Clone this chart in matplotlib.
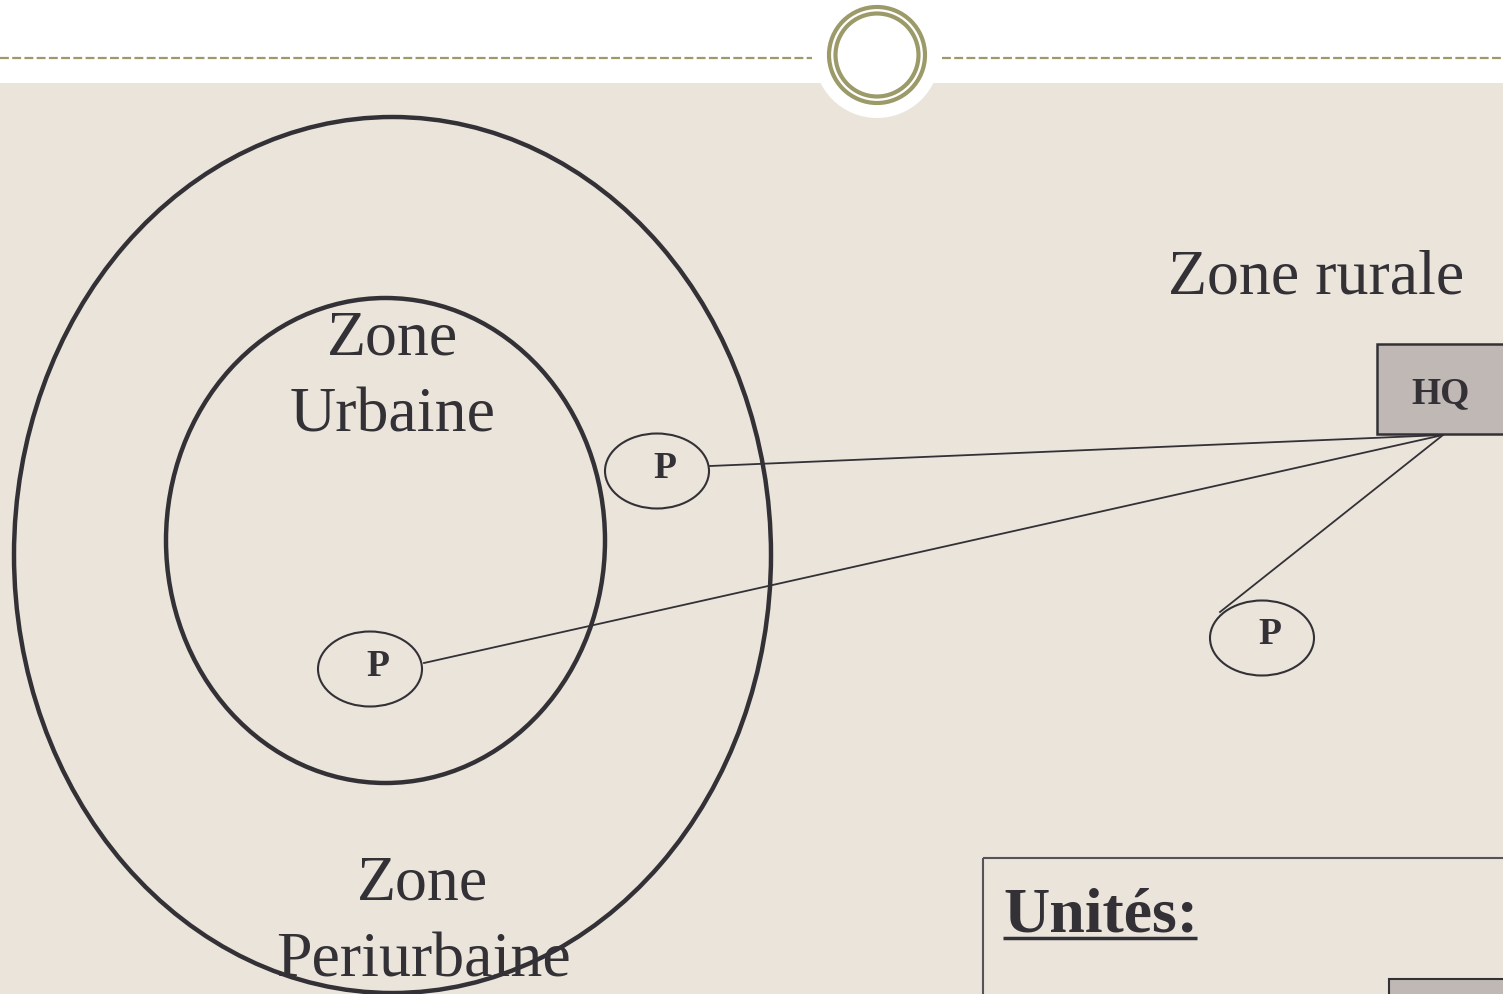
import matplotlib
matplotlib.use("Agg")
import matplotlib.pyplot as plt
from matplotlib.patches import Ellipse, Rectangle, Circle

# texte du schema
zone_labels = ["Zone\nUrbaine", "Zone\nPeriurbaine", "Zone rurale"]
poste_label = "P"
hq_label = "HQ"
units_title = "Unités:"

# centres des postes (pixels image)
postes_x = [657, 370, 1262]
postes_y = [471, 669, 638]
# point d'attache au HQ et depart des liaisons
hq_anchor = (1443, 435)
liens_x = [710, 424, 1220]
liens_y = [466, 663, 612]

BEIGE = "#EAE4DB"
DARK = "#333136"
OLIVE = "#9B9A68"
GRIS = "#C0B8B5"
SERIF = "Liberation Serif"

fig = plt.figure(figsize=(15.03, 9.94), dpi=100)
ax = fig.add_axes([0, 0, 1, 1])
ax.set_xlim(0, 1503)
ax.set_ylim(994, 0)
ax.set_aspect("auto")
ax.axis("off")
fig.patch.set_facecolor("white")

# fond beige + bandeau blanc
ax.add_patch(Rectangle((0, 83), 1503, 911, facecolor=BEIGE, edgecolor="none", zorder=0))
ax.plot([0, 812], [58, 58], color=OLIVE, lw=1.6, dashes=(4, 1.5), zorder=1)
ax.plot([942, 1503], [58, 58], color=OLIVE, lw=1.6, dashes=(4, 1.5), zorder=1)
ax.add_patch(Circle((877, 55), 63, facecolor="white", edgecolor="none", zorder=1))
ax.add_patch(Circle((877, 55), 48, facecolor="none", edgecolor=OLIVE, lw=3, zorder=2))
ax.add_patch(Circle((877, 55), 41.5, facecolor="none", edgecolor=OLIVE, lw=3, zorder=2))

# zones
ax.add_patch(Ellipse((392.5, 555), 757, 876, facecolor="none", edgecolor=DARK, lw=3.2, zorder=3))
ax.add_patch(Ellipse((385.5, 540.5), 439, 485, facecolor="none", edgecolor=DARK, lw=3.2, zorder=3))

ax.text(393, 378, zone_labels[0], fontsize=46, family=SERIF, color=DARK,
        ha="center", va="center", linespacing=1.42, zorder=4)
ax.text(423, 923, zone_labels[1], fontsize=46, family=SERIF, color=DARK,
        ha="center", va="center", linespacing=1.42, zorder=4)
ax.text(1316, 278, zone_labels[2], fontsize=46, family=SERIF, color=DARK,
        ha="center", va="center", zorder=4)

# liaisons vers HQ
for x, y in zip(liens_x, liens_y):
    ax.plot([x, hq_anchor[0]], [y, hq_anchor[1]], color=DARK, lw=1.3, zorder=4)

# postes
for x, y in zip(postes_x, postes_y):
    ax.add_patch(Ellipse((x, y), 104, 75, facecolor=BEIGE, edgecolor=DARK, lw=1.5, zorder=5))
    ax.text(x + 8, y - 3, poste_label, fontsize=27, family=SERIF, weight="bold",
            color=DARK, ha="center", va="center", zorder=6)

# HQ
ax.add_patch(Rectangle((1377, 344), 140, 90, facecolor=GRIS, edgecolor=DARK, lw=1.8, zorder=5))
ax.text(1441, 394, hq_label, fontsize=27, family=SERIF, weight="bold",
        color=DARK, ha="center", va="center", zorder=6)

# encadre unites
ax.add_patch(Rectangle((983, 858), 560, 200, facecolor="none", edgecolor="#555358", lw=1.5, zorder=5))
ax.text(1003, 931, units_title, fontsize=46, family=SERIF, weight="bold",
        color=DARK, ha="left", va="baseline", zorder=6)
ax.plot([1003, 1197], [937.5, 937.5], color=DARK, lw=2.5, solid_capstyle="butt", zorder=6)
ax.add_patch(Rectangle((1389, 979), 140, 40, facecolor=GRIS, edgecolor=DARK, lw=1.5, zorder=5))

fig.savefig("out.png", dpi=100, facecolor=fig.get_facecolor())
